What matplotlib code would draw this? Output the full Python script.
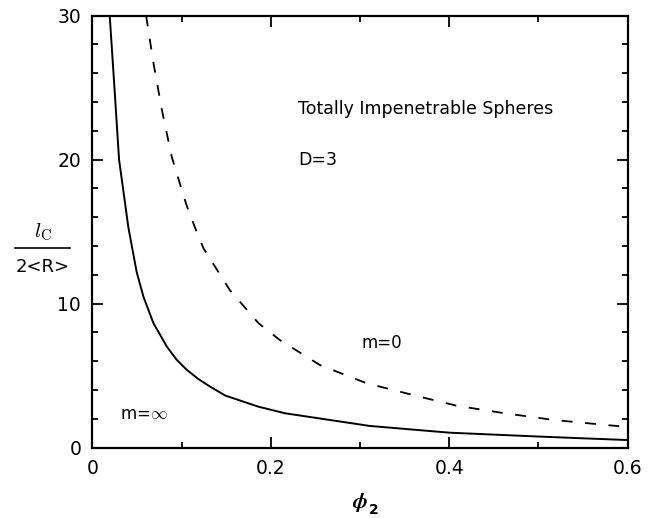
import matplotlib
matplotlib.use("Agg")
import matplotlib.pyplot as plt
from matplotlib.lines import Line2D
from matplotlib.ticker import MultipleLocator

# values
phi_solid = [0.0195, 0.0247, 0.030, 0.0404, 0.0497, 0.0572, 0.0684, 0.0834, 0.0946,
             0.1058, 0.119, 0.132, 0.149, 0.186, 0.216, 0.311, 0.401, 0.502, 0.6]
lc_solid = [30, 25.1, 20, 15.3, 12.2, 10.5, 8.66, 7.03, 6.10,
            5.41, 4.76, 4.24, 3.62, 2.85, 2.39, 1.51, 1.04, 0.77, 0.53]

phi_dash = [0.0603, 0.0684, 0.0778, 0.089, 0.0983, 0.1058, 0.115, 0.1245, 0.154,
            0.186, 0.210, 0.255, 0.3076, 0.367, 0.408, 0.42, 0.462, 0.518, 0.58, 0.6]
lc_dash = [30, 26.75, 23.5, 20.2, 18.3, 16.8, 15.3, 13.85, 10.95,
           8.66, 7.48, 5.74, 4.47, 3.54, 2.92, 2.80, 2.39, 1.92, 1.55, 1.45]

x_ticks = [0, 0.2, 0.4, 0.6]
x_tick_labels = ["0", "0.2", "0.4", "0.6"]
y_ticks = [0, 10, 20, 30]

plt.rcParams['font.family'] = ['DejaVu Sans']
plt.rcParams['mathtext.fontset'] = 'cm'

fig = plt.figure(figsize=(6.56, 5.18), dpi=100)
ax = fig.add_axes([0.1407, 0.1357, 0.8162, 0.8343])

ax.plot(phi_solid, lc_solid, color='black', lw=1.4)
ax.plot(phi_dash, lc_dash, color='black', lw=1.3, dashes=(6, 7))

ax.set_xlim(0, 0.6)
ax.set_ylim(0, 30)
ax.set_xticks(x_ticks)
ax.set_xticklabels(x_tick_labels)
ax.set_yticks(y_ticks)
ax.xaxis.set_minor_locator(MultipleLocator(0.1))
ax.yaxis.set_minor_locator(MultipleLocator(2))
ax.tick_params(which='both', direction='in', top=True, right=True,
               labelsize=13.5, width=1.3, color='black')
ax.tick_params(which='major', length=8, pad=8)
ax.tick_params(which='minor', length=4)
for s in ax.spines.values():
    s.set_linewidth(1.6)

ax.text(0.2305, 23.5, "Totally Impenetrable Spheres", fontsize=12.5, va='center')
ax.text(0.2305, 20.0, "D=3", fontsize=12.5, va='center')
ax.text(0.302, 7.27, "m=0", fontsize=12, va='center')
ax.text(0.031, 2.32, r"m=$\infty$", fontsize=12, va='center')

# y label as a stacked fraction
fig.text(43 / 656, 1 - 232 / 518, r"$l_{\rm C}$", fontsize=15, ha='center', va='center')
fig.add_artist(Line2D([15 / 656, 70 / 656], [1 - 248 / 518, 1 - 248 / 518],
                      color='black', lw=1.2))
fig.text(43 / 656, 1 - 267 / 518, "2<R>", fontsize=13, ha='center', va='center')

# x label: bold phi with a bold sans subscript 2
fig.text(360 / 656, 1 - 503 / 518, r"$\boldsymbol{\phi}$", fontsize=16,
         ha='center', va='center')
fig.text(369 / 656, 1 - 510 / 518, "2", fontsize=10, fontweight='bold',
         ha='left', va='center')

fig.savefig("out.png", dpi=100)
